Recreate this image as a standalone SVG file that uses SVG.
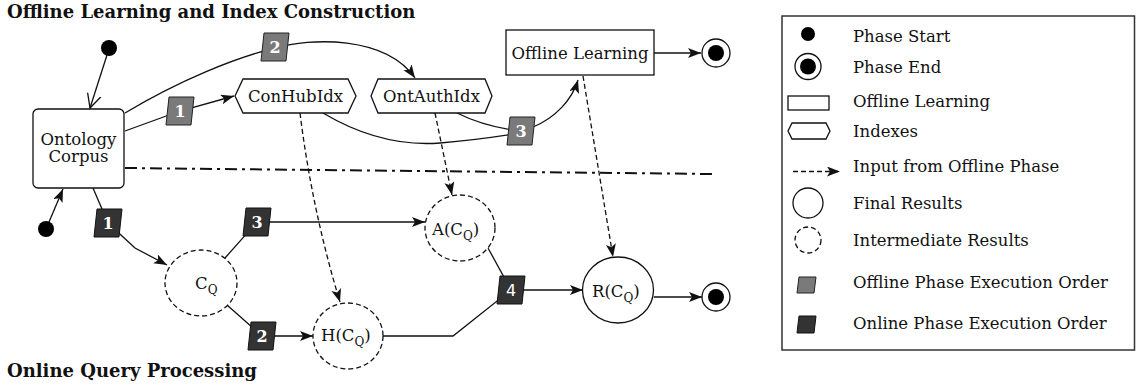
<svg xmlns="http://www.w3.org/2000/svg" width="1136" height="388" viewBox="0 0 1136 388">
<style>
text{font-family:"DejaVu Serif","Liberation Serif",serif;fill:#111}
.lbl{font-size:16.5px}
.ttl{font-size:18px;font-weight:bold}
.bt{font-size:16px;font-weight:bold;fill:#fff;text-anchor:middle}
.sub{font-size:12px}
.ln{fill:none;stroke:#111;stroke-width:1.3}
.dsh{fill:none;stroke:#111;stroke-width:1.3;stroke-dasharray:5,3}
.node{fill:#fff;stroke:#111;stroke-width:1.3}
.inter{fill:#fff;stroke:#111;stroke-width:1.3;stroke-dasharray:5,3}
.off{fill:#7a7a7a;stroke:#222;stroke-width:1}
.on{fill:#333;stroke:#111;stroke-width:1}
.dot{fill:#000}
</style>
<defs>
<marker id="ah" markerUnits="userSpaceOnUse" markerWidth="14" markerHeight="12" refX="13" refY="5" orient="auto">
<path d="M0,0 L13,5 L0,10 L3,5 z" fill="#111"/>
</marker>
<marker id="oh" markerUnits="userSpaceOnUse" markerWidth="16" markerHeight="20" refX="14" refY="9" orient="auto">
<path d="M0,2 L14,9 L0,16" fill="none" stroke="#111" stroke-width="1.3"/>
</marker>
<path id="bdg" d="M-11,-14 L14,-14 L11,14 L-14,14 Z"/>
</defs>

<text class="ttl" x="7" y="18">Offline Learning and Index Construction</text>
<text class="ttl" x="7" y="377">Online Query Processing</text>

<g id="connectors">
<line x1="125" y1="168" x2="712" y2="174" stroke="#111" stroke-width="2" stroke-dasharray="12,5,3,5"/>
<line class="ln" x1="107" y1="55" x2="90" y2="108" marker-end="url(#oh)"/>
<line class="ln" x1="49" y1="222" x2="63" y2="189" marker-end="url(#ah)"/>
<path class="ln" d="M125,131 L180,111 L234,96" marker-end="url(#ah)"/>
<path class="ln" d="M125,113 C180,80 235,58 275,48 C310,38 385,35 415,78" marker-end="url(#ah)"/>
<path class="ln" d="M323,113 C360,135 400,146 440,143 C475,140 495,137 520,133"/>
<path class="ln" d="M457,113 C475,122 495,128 520,131"/>
<path class="ln" d="M533,127 C555,118 572,100 578,80" marker-end="url(#ah)"/>
<path class="ln" d="M654,53 L701,53" marker-end="url(#ah)"/>
<path class="dsh" d="M300,113 Q312,210 340,302" marker-end="url(#ah)"/>
<path class="dsh" d="M435,113 L452,195" marker-end="url(#ah)"/>
<path class="dsh" d="M583,76 L613,257" marker-end="url(#ah)"/>
<path class="ln" d="M93,188 L108,223 L135,248 L167,265" marker-end="url(#ah)"/>
<path class="ln" d="M225,258 L257,222 L425,222" marker-end="url(#ah)"/>
<path class="ln" d="M227,305 L262,336 L313,336" marker-end="url(#ah)"/>
<path class="ln" d="M383,336 L453,336 L511,290 L583,290" marker-end="url(#ah)"/>
<path class="ln" d="M488,248 L511,290"/>
<path class="ln" d="M654,297 L702,297" marker-end="url(#ah)"/>
</g>

<g id="start-offline"><circle class="dot" cx="109" cy="48" r="8"/></g>
<g id="start-online"><circle class="dot" cx="46" cy="229" r="8"/></g>

<g id="ontology-corpus">
<rect class="node" x="33" y="109" width="91" height="79" rx="5"/>
<text class="lbl" x="78.5" y="145" text-anchor="middle">Ontology</text>
<text class="lbl" x="78.5" y="162" text-anchor="middle">Corpus</text>
</g>
<g id="conhubidx">
<polygon class="node" points="235,96 243,79 348,79 356,96 348,113 243,113"/>
<text class="lbl" x="295.5" y="102" text-anchor="middle">ConHubIdx</text>
</g>
<g id="ontauthidx">
<polygon class="node" points="371,96 378,79 485,79 492,96 485,113 378,113"/>
<text class="lbl" x="431.5" y="102" text-anchor="middle">OntAuthIdx</text>
</g>
<g id="offline-learning">
<rect class="node" x="506" y="30" width="148" height="45"/>
<text class="lbl" x="580" y="58.5" text-anchor="middle">Offline Learning</text>
</g>
<g id="end-offline">
<circle cx="716" cy="53" r="14" fill="#fff" stroke="#111" stroke-width="1.3"/>
<circle class="dot" cx="716" cy="53" r="8"/>
</g>

<g id="off-badge-1"><use href="#bdg" class="off" x="180" y="111"/><text class="bt" x="180" y="117">1</text></g>
<g id="off-badge-2"><use href="#bdg" class="off" x="275" y="47"/><text class="bt" x="275" y="53">2</text></g>
<g id="off-badge-3"><use href="#bdg" class="off" x="521" y="131"/><text class="bt" x="521" y="137">3</text></g>

<g id="cq">
<ellipse class="inter" cx="201" cy="283" rx="36" ry="33"/>
<text class="lbl" x="195" y="289">C<tspan class="sub" dy="5">Q</tspan></text>
</g>
<g id="acq">
<ellipse class="inter" cx="460" cy="228" rx="35" ry="33"/>
<text class="lbl" x="432" y="235">A(C<tspan class="sub" dy="5">Q</tspan><tspan dy="-5">)</tspan></text>
</g>
<g id="hcq">
<ellipse class="inter" cx="348" cy="336" rx="35" ry="33"/>
<text class="lbl" x="321" y="341">H(C<tspan class="sub" dy="5">Q</tspan><tspan dy="-5">)</tspan></text>
</g>
<g id="rcq">
<ellipse class="node" cx="618" cy="290" rx="35.5" ry="33"/>
<text class="lbl" x="592" y="297">R(C<tspan class="sub" dy="5">Q</tspan><tspan dy="-5">)</tspan></text>
</g>
<g id="end-online">
<circle cx="716" cy="297" r="14" fill="#fff" stroke="#111" stroke-width="1.3"/>
<circle class="dot" cx="716" cy="297" r="8"/>
</g>

<g id="on-badge-1"><use href="#bdg" class="on" x="108" y="223"/><text class="bt" x="108" y="229">1</text></g>
<g id="on-badge-3"><use href="#bdg" class="on" x="257" y="222"/><text class="bt" x="257" y="228">3</text></g>
<g id="on-badge-2"><use href="#bdg" class="on" x="262" y="336"/><text class="bt" x="262" y="342">2</text></g>
<g id="on-badge-4"><use href="#bdg" class="on" x="511" y="290"/><text class="bt" x="511" y="296" style="font-family:'DejaVu Sans',sans-serif;font-weight:normal">4</text></g>

<g id="legend">
<rect x="782" y="16" width="352.5" height="334" fill="#fff" stroke="#333" stroke-width="1.5"/>
<circle class="dot" cx="808" cy="34" r="7"/>
<text class="lbl" x="853" y="41.5">Phase Start</text>
<circle cx="808" cy="66.5" r="13" fill="#fff" stroke="#111" stroke-width="1.3"/>
<circle class="dot" cx="808" cy="66.5" r="8"/>
<text class="lbl" x="853" y="73">Phase End</text>
<rect class="node" x="788" y="96" width="41" height="14"/>
<text class="lbl" x="853" y="106.5">Offline Learning</text>
<polygon class="node" points="788,131 792,123 826,123 830,131 826,139 792,139"/>
<text class="lbl" x="853" y="136.5">Indexes</text>
<path class="dsh" d="M793,171.5 L840,171.5" marker-end="url(#ah)"/>
<text class="lbl" x="853" y="171.5">Input from Offline Phase</text>
<ellipse class="node" cx="808" cy="203" rx="15" ry="15"/>
<text class="lbl" x="853" y="209">Final Results</text>
<ellipse class="inter" cx="808" cy="240" rx="13" ry="13"/>
<text class="lbl" x="853" y="246">Intermediate Results</text>
<polygon class="off" points="799,277 816,277 814,293 797,293"/>
<text class="lbl" x="853" y="288">Offline Phase Execution Order</text>
<polygon class="on" points="799,316 816,316 814,333 797,333"/>
<text class="lbl" x="853" y="329">Online Phase Execution Order</text>
</g>
</svg>
